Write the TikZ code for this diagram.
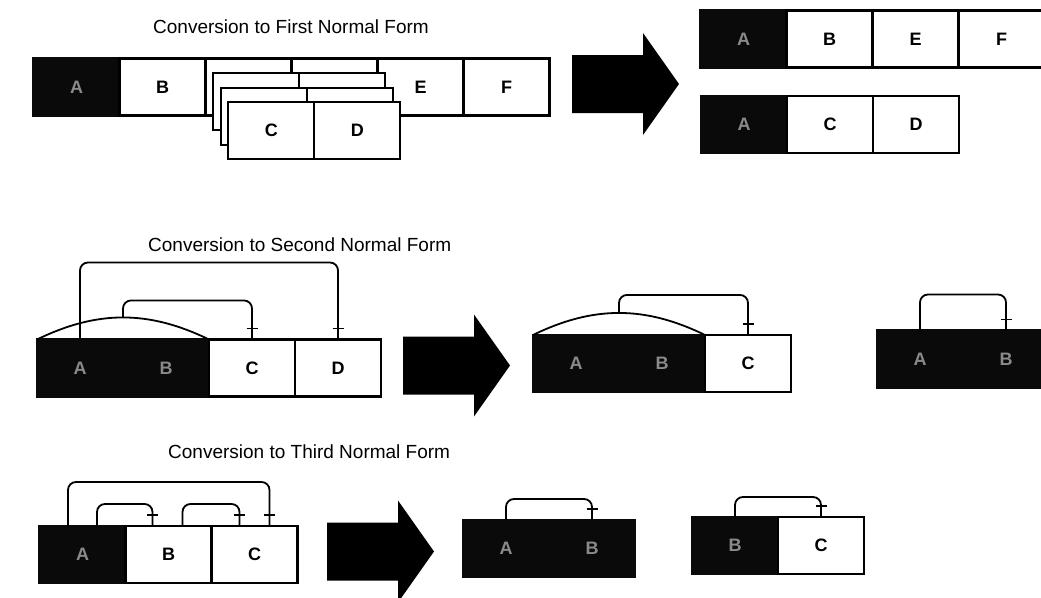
\documentclass[tikz,border=0pt]{standalone}
\usepackage{fontspec}
\setmainfont{Liberation Sans}
\usepackage{tikz}
\usetikzlibrary{positioning,decorations.markings}
\definecolor{keyfill}{HTML}{0A0A0A}
\definecolor{keytext}{HTML}{8A8A8A}
\tikzset{
  cell/.style={draw,line width=2.2pt,fill=white,minimum width=86pt,minimum height=57pt,
    inner sep=0pt,outer sep=0pt,font=\fontsize{18}{21}\selectfont\bfseries},
  key/.style={cell,fill=keyfill,draw=keyfill,text=keytext},
  ttl/.style={anchor=west,inner sep=0pt,font=\fontsize{19}{22}\selectfont},
  hump/.style={line width=1.8pt},
  dep/.style={line width=1.8pt,rounded corners=8pt,
    postaction={decorate,decoration={markings,
      mark=at position -11pt with {\draw[line width=1.6pt] (0pt,-5.5pt) -- (0pt,5.5pt);}}}}
}
\newcommand{\fatarrow}[2]{\fill (#1,#2) ++(0,-29) -- ++(71,0) -- ++(0,-22) -- ++(36,51)
  -- ++(-36,51) -- ++(0,-22) -- ++(-71,0) -- cycle;}

\begin{document}
\begin{tikzpicture}[x=1pt,y=-1pt]
\fill[white] (0,0) rectangle (1041,597);
\useasboundingbox (0,0) rectangle (1041,597);

% first normal form
\node[ttl] (t1) at (153,27) {Conversion to First Normal Form};
\node[key] (a1) at (76.5,87) {A};
\node[cell,right=0pt of a1] (b1) {B};
\node[cell,right=0pt of b1] (c1) {};
\node[cell,right=0pt of c1] (d1) {};
\node[cell,right=0pt of d1] (e1) {E};
\node[cell,right=0pt of e1] (f1) {F};
\foreach \k in {1,2}{
  \node[cell] (c1\k) at ([shift={(7.6*\k,14.6*\k)}]c1.center) {};
  \node[cell,right=0pt of c1\k] (d1\k) {};
}
\node[cell] (c13) at ([shift={(22.8,43.8)}]c1.center) {C};
\node[cell,right=0pt of c13] (d13) {D};

\fatarrow{572}{84}

\node[key] (a1r) at (743.5,39) {A};
\node[cell,right=0pt of a1r] (b1r) {B};
\node[cell,right=0pt of b1r] (e1r) {E};
\node[cell,right=0pt of e1r] (f1r) {F};
\node[key] (a1s) at (744,124.5) {A};
\node[cell,right=0pt of a1s] (c1s) {C};
\node[cell,right=0pt of c1s] (d1s) {D};

% second normal form
\node[ttl] (t2) at (148,245) {Conversion to Second Normal Form};
\node[key] (a2) at (80,368) {A};
\node[key,right=0pt of a2] (b2) {B};
\node[cell,right=0pt of b2] (c2) {C};
\node[cell,right=0pt of c2] (d2) {D};
\draw[hump] (a2.north west) to[bend left=26] coordinate[pos=.5] (k2) (b2.north east);
\draw[dep] (a2.north) -- ++(0,-77) -| (d2.north);
\draw[dep] (k2) -- ++(0,-17) -| (c2.north);

\fatarrow{403}{365.5}

\node[key] (a2m) at (576,363.5) {A};
\node[key,right=0pt of a2m] (b2m) {B};
\node[cell,right=0pt of b2m] (c2m) {C};
\draw[hump] (a2m.north west) to[bend left=26] coordinate[pos=.5] (k2m) (b2m.north east);
\draw[dep] (k2m) -- ++(0,-18) -| (c2m.north);

\node[key] (a2r) at (920,359) {A};
\node[key,right=0pt of a2r] (b2r) {B};
\draw[dep] (a2r.north) -- ++(0,-36) -| (b2r.north);

% third normal form
\node[ttl] (t3) at (168,452) {Conversion to Third Normal Form};
\node[key] (a3) at (82.5,554.5) {A};
\node[cell,right=0pt of a3] (b3) {B};
\node[cell,right=0pt of b3] (c3) {C};
\draw[dep] ([xshift=-14.5pt]a3.north) -- ++(0,-44) -| ([xshift=15pt]c3.north);
\draw[dep] ([xshift=14.5pt]a3.north) -- ++(0,-22) -| ([xshift=-16pt]b3.north);
\draw[dep] ([xshift=14pt]b3.north) -- ++(0,-22) -| ([xshift=-15pt]c3.north);

\fatarrow{327}{551.5}

\node[key] (a3m) at (506,548.5) {A};
\node[key,right=0pt of a3m] (b3m) {B};
\draw[dep] (a3m.north) -- ++(0,-21) -| (b3m.north);

\node[key] (b3r) at (735,545.5) {B};
\node[cell,right=0pt of b3r] (c3r) {C};
\draw[dep] (b3r.north) -- ++(0,-20) -| (c3r.north);
\end{tikzpicture}
\end{document}
